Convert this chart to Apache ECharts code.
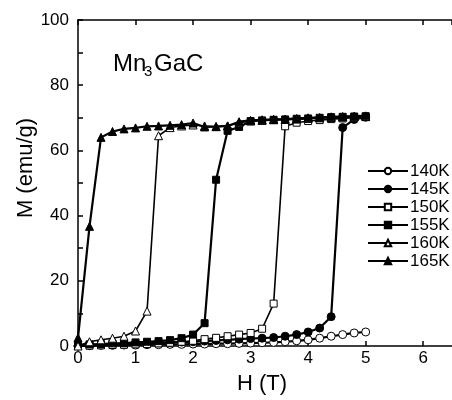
<!DOCTYPE html>
<html>
<head>
<meta charset="utf-8">
<script src="https://cdn.jsdelivr.net/npm/echarts@6/dist/echarts.min.js"></script>
<style>
  html, body { margin: 0; padding: 0; background: #fff; }
  #chart { width: 452px; height: 400px; }
</style>
</head>
<body>
<div id="chart"></div>
<script>
// field steps (T)
const fieldH = [0, 0.2, 0.4, 0.6, 0.8, 1.0, 1.2, 1.4, 1.6, 1.8, 2.0, 2.2, 2.4, 2.6, 2.8, 3.0, 3.2, 3.4, 3.6, 3.8, 4.0, 4.2, 4.4, 4.6, 4.8, 5.0]

// magnetization (emu/g) per temperature
const m140 = [0, 0.1, 0.2, 0.2, 0.3, 0.3, 0.4, 0.4, 0.5, 0.5, 0.6, 0.6, 0.7, 0.7, 0.8, 0.9, 1.0, 1.1, 1.3, 1.6, 1.9, 2.4, 3.0, 3.5, 4.0, 4.3]
const m145 = [0, 0.3, 0.5, 0.6, 0.7, 0.8, 0.9, 1.0, 1.1, 1.2, 1.3, 1.5, 1.7, 1.9, 2.1, 2.3, 2.4, 2.6, 3.0, 3.5, 4.3, 5.5, 9.0, 67.0, 69.5, 70.2]
const m150 = [0, 0.1, 0.2, 0.3, 0.4, 0.5, 0.6, 0.8, 1.0, 1.3, 1.6, 2.1, 2.5, 3.0, 3.5, 4.0, 5.3, 13.0, 67.4, 68.5, 69.0, 69.3, 69.6, 69.8, 70.0, 70.2]
const m155 = [0.3, 0.5, 0.6, 0.8, 0.9, 1.1, 1.3, 1.5, 1.8, 2.4, 3.5, 7.0, 51.0, 66.0, 67.2, 69.0, 69.2, 69.4, 69.5, 69.7, 69.8, 70.0, 70.2, 70.3, 70.4, 70.5]
const m160 = [0, 1.3, 1.9, 2.4, 3.0, 4.6, 10.7, 64.5, 67.0, 67.5, 67.8, 67.5, 67.3, 67.5, 68.5, 69.0, 69.2, 69.4, 69.5, 69.6, 69.8, 70.0, 70.1, 70.2, 70.3, 70.4]
const m165 = [2.5, 36.7, 64.0, 65.8, 66.6, 66.9, 67.4, 67.5, 67.7, 67.9, 68.4, 67.2, 67.3, 67.5, 68.8, 69.2, 69.4, 69.5, 69.6, 69.8, 70.0, 70.1, 70.3, 70.4, 70.5, 70.6]

const xTicks = [0, 1, 2, 3, 4, 5, 6]
const yTicks = [0, 20, 40, 60, 80, 100]

const seriesDefs = [
  { name: '140K', data: m140, symbol: 'circle', size: 8, fill: '#fff', lw: 2.2 },
  { name: '145K', data: m145, symbol: 'circle', size: 8, fill: '#000', lw: 2.2 },
  { name: '150K', data: m150, symbol: 'rect', size: 7, fill: '#fff', lw: 1.6 },
  { name: '155K', data: m155, symbol: 'rect', size: 7, fill: '#000', lw: 2.2 },
  { name: '160K', data: m160, symbol: 'triangle', size: 8, fill: '#fff', lw: 1.6 },
  { name: '165K', data: m165, symbol: 'triangle', size: 8, fill: '#000', lw: 2.2 },
]

const font = 'Liberation Sans, Arial, sans-serif'
const chart = echarts.init(document.getElementById('chart'))

const axisBase = {
  type: 'value',
  axisLine: { show: true, lineStyle: { color: '#000', width: 1.5 } },
  axisTick: { show: true, inside: true, length: 5, lineStyle: { color: '#000', width: 1.5 } },
  splitLine: { show: false },
}

chart.setOption({
  animation: false,
  backgroundColor: '#fff',
  grid: { left: 78, top: 20, right: -10, bottom: 53 },
  xAxis: [
    {
      ...axisBase,
      min: 0, max: 6.5, interval: 1,
      axisLabel: {
        color: '#000', fontSize: 17, fontFamily: font, margin: 4,
        showMaxLabel: false,
        formatter: v => xTicks.includes(v) ? String(v) : ''
      },
      name: 'H (T)',
      nameLocation: 'middle',
      nameGap: 27,
      nameMoveOverlap: false,
      nameTextStyle: { color: '#000', fontSize: 22, fontFamily: font, padding: [0, 6, 0, 0] },
    },
    {
      ...axisBase,
      position: 'top',
      min: 0, max: 6.5, interval: 1,
      axisLabel: { show: false },
    }
  ],
  yAxis: {
    ...axisBase,
    min: 0, max: 100, interval: 20,
    minorTick: { show: true, splitNumber: 2, length: 5, lineStyle: { color: '#000', width: 1.5 } },
    axisLabel: {
      color: '#000', fontSize: 17, fontFamily: font, margin: 9,
      formatter: v => yTicks.includes(v) ? String(v) : ''
    },
    name: 'M (emu/g)',
    nameLocation: 'middle',
    nameGap: 41,
    nameMoveOverlap: false,
    nameTextStyle: { color: '#000', fontSize: 22, fontFamily: font, padding: [0, 0, 0, 30] },
  },
  legend: {
    orient: 'vertical',
    left: 362,
    top: 157,
    itemWidth: 40,
    itemHeight: 8,
    itemGap: 0,
    textStyle: { color: '#000', fontSize: 17, lineHeight: 18, fontFamily: font, padding: [0, 0, 0, -3] },
    data: seriesDefs.map(s => s.name),
  },
  graphic: [
    { type: 'text', left: 113, top: 52, style: { text: 'Mn', fill: '#000', font: '24px ' + font } },
    { type: 'text', left: 144, top: 64, style: { text: '3', fill: '#000', font: '15px ' + font } },
    { type: 'text', left: 154, top: 52, style: { text: 'GaC', fill: '#000', font: '24px ' + font } },
  ],
  series: seriesDefs.map(s => ({
    name: s.name,
    type: 'line',
    data: fieldH.map((h, i) => [h, s.data[i]]),
    symbol: s.symbol,
    symbolSize: s.size,
    showAllSymbol: true,
    lineStyle: { color: '#000', width: s.lw },
    itemStyle: { color: s.fill, borderColor: '#000', borderWidth: 1 },
    emphasis: { disabled: true },
  })),
})
</script>
</body>
</html>
